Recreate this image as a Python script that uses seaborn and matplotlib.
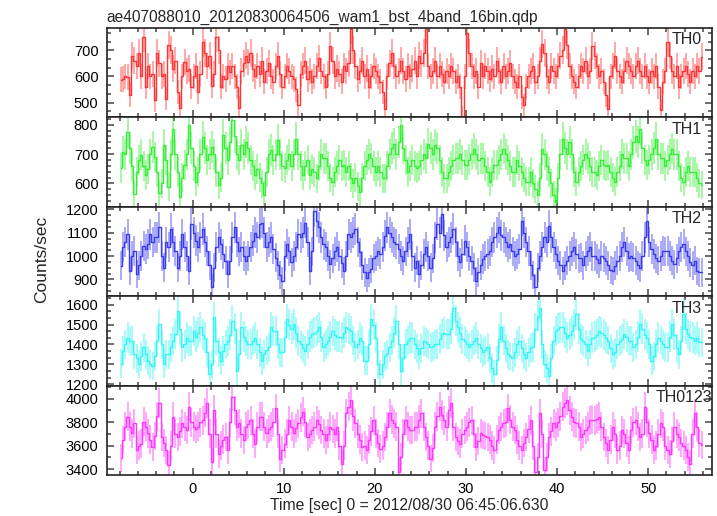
import matplotlib
matplotlib.use("Agg")
import matplotlib.pyplot as plt
import numpy as np
import seaborn as sns
from matplotlib.ticker import MultipleLocator, AutoMinorLocator

sns.set_style("ticks")
plt.rcParams["font.family"] = ["Liberation Sans", "DejaVu Sans"]

# light curve data (counts/sec, 0.25 s bins starting at t = -8 s)
t_start = -8.0
bin_sec = 0.25

th0 = [
    588, 590, 600, 598, 530, 680, 660, 640, 690, 600, 750, 560, 640, 600, 610, 510,
    690, 650, 600, 610, 515, 720, 700, 630, 660, 540, 480, 600, 655, 620, 630, 560,
    600, 640, 540, 610, 730, 690, 640, 680, 565, 610, 750, 700, 560, 600, 590, 640,
    615, 640, 600, 560, 480, 620, 650, 680, 655, 690, 630, 600, 640, 610, 660, 580,
    620, 650, 600, 580, 640, 680, 610, 560, 600, 640, 620, 600, 590, 550, 490, 610,
    640, 660, 590, 620, 580, 600, 640, 670, 620, 600, 560, 610, 715, 660, 600, 630,
    610, 580, 640, 620, 650, 780, 700, 640, 590, 620, 660, 600, 630, 560, 600, 640,
    620, 600, 580, 540, 475, 600, 650, 690, 640, 600, 620, 660, 620, 590, 640, 600,
    630, 660, 600, 680, 650, 690, 780, 640, 600, 620, 660, 600, 640, 610, 580, 620,
    600, 640, 620, 580, 600, 560, 445, 600, 765, 690, 640, 600, 620, 560, 650, 600,
    640, 620, 590, 630, 600, 660, 620, 580, 640, 600, 620, 650, 600, 580, 560, 600,
    520, 490, 560, 600, 620, 640, 580, 600, 660, 725, 690, 600, 580, 640, 620, 600,
    640, 680, 700, 780, 720, 640, 600, 580, 560, 600, 640, 620, 660, 600, 620, 715,
    680, 640, 600, 620, 580, 530, 475, 600, 640, 680, 620, 600, 580, 620, 660, 640,
    620, 600, 640, 660, 620, 600, 640, 600, 580, 620, 600, 640, 560, 470, 580, 620,
    730, 680, 620, 600, 640, 560, 600, 620, 640, 610, 580, 620, 600, 640, 620, 675,
]

th1 = [
    654, 708, 700, 776, 720, 660, 563, 640, 680, 697, 660, 629, 650, 700, 725, 690,
    640, 567, 600, 730, 680, 589, 700, 787, 700, 640, 555, 620, 663, 700, 798, 720,
    660, 606, 640, 700, 759, 720, 680, 700, 725, 700, 640, 595, 620, 764, 720, 680,
    740, 815, 760, 700, 680, 730, 700, 742, 720, 680, 660, 629, 650, 620, 600, 561,
    640, 700, 714, 680, 700, 747, 700, 660, 651, 680, 700, 660, 700, 753, 700, 660,
    629, 660, 680, 629, 650, 640, 618, 660, 700, 685, 685, 660, 620, 606, 640, 660,
    680, 660, 663, 640, 660, 620, 600, 620, 590, 572, 620, 660, 680, 700, 685, 660,
    640, 660, 640, 618, 618, 660, 700, 720, 736, 700, 740, 798, 720, 680, 640, 660,
    680, 660, 651, 660, 680, 700, 685, 736, 720, 700, 730, 720, 680, 640, 618, 618,
    640, 660, 680, 685, 685, 700, 680, 663, 663, 680, 700, 719, 700, 680, 685, 685,
    660, 640, 606, 640, 663, 663, 680, 700, 719, 700, 680, 660, 640, 640, 680, 660,
    640, 620, 606, 606, 640, 600, 580, 561, 620, 719, 700, 660, 640, 600, 560, 538,
    620, 700, 753, 720, 700, 742, 700, 640, 606, 640, 660, 680, 700, 685, 660, 640,
    640, 629, 660, 680, 663, 660, 663, 640, 620, 606, 640, 660, 700, 685, 685, 660,
    700, 740, 760, 740, 787, 720, 680, 663, 680, 700, 720, 753, 700, 685, 685, 660,
    680, 700, 719, 700, 700, 660, 620, 606, 640, 660, 640, 640, 640, 620, 600, 595,
]

th2 = [
    958, 1037, 1060, 1094, 937, 1000, 1023, 923, 960, 1000, 1044, 1030, 1051, 1094, 1060, 1080,
    1080, 1123, 1000, 951, 1059, 1040, 1116, 1060, 1023, 951, 1000, 1094, 1040, 1000, 937, 1137,
    1100, 1066, 1040, 1080, 1116, 1060, 1023, 960, 866, 950, 1040, 1080, 1050, 1009, 980, 923,
    980, 1080, 1123, 1060, 1020, 1037, 1000, 980, 1000, 1040, 1066, 1100, 1080, 1137, 1144, 1100,
    1037, 1060, 1080, 1030, 994, 960, 920, 894, 1000, 1051, 1020, 973, 1000, 1040, 1094, 1080,
    1100, 1144, 1060, 937, 1020, 1194, 1150, 1123, 1080, 1050, 1037, 1000, 966, 990, 1020, 1037,
    1000, 970, 937, 1000, 1094, 1080, 1100, 1116, 1060, 1016, 960, 930, 908, 930, 944, 990,
    1000, 1020, 1009, 1040, 1087, 1123, 1100, 1080, 1060, 1051, 1030, 1000, 980, 1020, 1060, 1094,
    1000, 951, 980, 923, 960, 1010, 1037, 1000, 951, 990, 1080, 1137, 1100, 1180, 1090, 1037,
    1060, 1080, 1116, 1060, 1000, 973, 1010, 1066, 1040, 1000, 980, 950, 894, 930, 960, 987,
    1000, 1010, 1023, 1060, 1080, 1100, 1123, 1090, 1080, 1060, 1040, 1051, 1020, 1000, 1009, 1030,
    1152, 1100, 1060, 1023, 960, 920, 866, 950, 1000, 1037, 1080, 1060, 1130, 1080, 1040, 1009,
    980, 960, 937, 960, 980, 1000, 1020, 1037, 1010, 990, 994, 960, 1000, 1023, 1040, 1000,
    1000, 987, 970, 1000, 994, 980, 960, 940, 937, 958, 980, 1000, 1037, 1060, 1020, 994,
    1000, 994, 980, 960, 951, 1000, 1080, 1152, 1060, 1030, 1009, 990, 980, 1000, 1023, 1020,
    1023, 1000, 980, 966, 990, 1020, 1040, 1051, 1020, 1000, 973, 960, 980, 937, 930, 930,
]

th3 = [
    1304, 1368, 1400, 1435, 1420, 1418, 1351, 1330, 1301, 1340, 1385, 1350, 1318, 1300, 1292, 1340,
    1418, 1502, 1400, 1301, 1351, 1351, 1385, 1420, 1452, 1570, 1480, 1385, 1400, 1435, 1418, 1418,
    1469, 1440, 1460, 1486, 1450, 1435, 1360, 1250, 1300, 1536, 1420, 1360, 1318, 1368, 1400, 1418,
    1450, 1519, 1480, 1267, 1350, 1486, 1440, 1418, 1400, 1402, 1420, 1435, 1400, 1360, 1318, 1350,
    1370, 1385, 1486, 1469, 1469, 1400, 1360, 1360, 1440, 1528, 1500, 1480, 1502, 1460, 1418, 1400,
    1380, 1368, 1400, 1440, 1452, 1460, 1470, 1486, 1440, 1385, 1400, 1418, 1440, 1469, 1450, 1440,
    1440, 1435, 1460, 1486, 1480, 1469, 1420, 1385, 1400, 1435, 1420, 1318, 1318, 1400, 1528, 1500,
    1435, 1300, 1250, 1300, 1340, 1351, 1385, 1420, 1460, 1519, 1400, 1267, 1330, 1402, 1420, 1435,
    1435, 1400, 1380, 1351, 1380, 1418, 1410, 1400, 1385, 1390, 1400, 1402, 1430, 1452, 1460, 1452,
    1452, 1480, 1586, 1520, 1486, 1460, 1430, 1418, 1400, 1385, 1400, 1420, 1435, 1400, 1380, 1360,
    1370, 1385, 1330, 1280, 1250, 1320, 1430, 1486, 1420, 1380, 1351, 1340, 1334, 1360, 1400, 1418,
    1380, 1350, 1334, 1360, 1385, 1385, 1480, 1540, 1586, 1400, 1301, 1280, 1242, 1330, 1420, 1469,
    1480, 1486, 1486, 1460, 1435, 1450, 1469, 1500, 1553, 1480, 1430, 1418, 1400, 1368, 1400, 1435,
    1440, 1450, 1469, 1460, 1450, 1435, 1420, 1380, 1351, 1360, 1400, 1418, 1430, 1452, 1440, 1420,
    1420, 1385, 1400, 1440, 1502, 1480, 1450, 1435, 1400, 1318, 1340, 1400, 1435, 1420, 1400, 1385,
    1385, 1440, 1502, 1450, 1380, 1351, 1420, 1553, 1480, 1452, 1440, 1435, 1420, 1435, 1410, 1410,
]

th0123 = [
    3497, 3646, 3760, 3846, 3760, 3703, 3789, 3560, 3600, 3617, 3803, 3760, 3703, 3650, 3589, 3680,
    3850, 3960, 3674, 3620, 3560, 3437, 3600, 3846, 3700, 3674, 3720, 3789, 3760, 3731, 3931, 3800,
    3760, 3740, 3760, 3800, 3817, 3880, 3960, 3700, 3460, 3903, 3700, 3531, 3600, 3650, 3674, 3560,
    3800, 4017, 3900, 3760, 3789, 3700, 3646, 3760, 3780, 3817, 3700, 3617, 3760, 3846, 3846, 3760,
    3703, 3740, 3760, 3800, 3917, 3700, 3489, 3560, 3617, 3700, 3817, 3760, 3703, 3750, 3789, 3840,
    3889, 3800, 3674, 3700, 3731, 3760, 3817, 3780, 3731, 3700, 3646, 3700, 3760, 3740, 3700, 3760,
    3600, 3446, 3600, 3874, 3930, 3989, 3850, 3789, 3700, 3650, 3589, 3600, 3560, 3650, 3720, 3817,
    3700, 3620, 3574, 3600, 3674, 3760, 3874, 3820, 3789, 3760, 3374, 3500, 3700, 3817, 3760, 3731,
    3731, 3760, 3760, 3820, 3874, 3760, 3674, 3600, 3489, 3580, 3760, 3850, 3931, 3860, 3817, 3760,
    3900, 3960, 3760, 3674, 3640, 3617, 3700, 3731, 3760, 3800, 3817, 3700, 3589, 3640, 3703, 3690,
    3680, 3674, 3650, 3600, 3560, 3650, 3731, 3760, 3789, 3800, 3917, 3820, 3760, 3731, 3650, 3600,
    3560, 3620, 3674, 3740, 3817, 3600, 3374, 3500, 3874, 3700, 3389, 3500, 3674, 3720, 3789, 3760,
    3800, 3850, 3931, 3960, 3989, 3900, 3846, 3800, 3789, 3760, 3674, 3700, 3731, 3760, 3817, 3820,
    3817, 3830, 3846, 3760, 3674, 3620, 3560, 3650, 3760, 3700, 3560, 3600, 3731, 3700, 3620, 3560,
    3731, 3800, 3817, 3760, 3674, 3700, 3931, 3800, 3703, 3650, 3560, 3600, 3700, 3789, 3760, 3600,
    3560, 3531, 3640, 3760, 3700, 3674, 3620, 3600, 3560, 3500, 3446, 3700, 3874, 3760, 3620, 3603,
]

names = ["TH0", "TH1", "TH2", "TH3", "TH0123"]
series = [th0, th1, th2, th3, th0123]
colors = ["#ff3434", "#36ee36", "#3a3aee", "#36f5f5", "#ff36ff"]
ylims = [(443, 786), (520, 825), (827, 1211), (1191, 1642), (3345, 4107)]
yticks = [
    [500, 600, 700],
    [600, 700, 800],
    [900, 1000, 1100, 1200],
    [1200, 1300, 1400, 1500, 1600],
    [3400, 3600, 3800, 4000],
]
yminor = [3, 5, 4, 3, 2]
label_x = [0.983, 0.983, 0.983, 0.983, 1.0]

fig, axes = plt.subplots(5, 1, sharex=True, figsize=(7.17, 5.16), dpi=100)
fig.subplots_adjust(left=0.149, right=0.993, top=0.946, bottom=0.0785, hspace=0)

for i, ax in enumerate(axes):
    vals = np.array(series[i], dtype=float)
    t = t_start + bin_sec / 2 + bin_sec * np.arange(len(vals))
    err = np.sqrt(vals * bin_sec) / bin_sec

    ax.errorbar(t, vals, yerr=err, fmt="none", ecolor=colors[i],
                elinewidth=1.2, alpha=0.5, capsize=0)
    sns.lineplot(x=t, y=vals, ax=ax, color=colors[i], lw=1.0,
                 drawstyle="steps-mid", estimator=None)

    ax.set_ylim(*ylims[i])
    ax.set_yticks(yticks[i])
    ax.yaxis.set_minor_locator(AutoMinorLocator(yminor[i]))
    ax.set_xlim(-9.4, 57.0)
    ax.xaxis.set_major_locator(MultipleLocator(10))
    ax.xaxis.set_minor_locator(MultipleLocator(2))
    ax.tick_params(which="both", direction="in", top=True, right=True,
                   colors="#444444", labelcolor="black", labelsize=10.5, width=1.1)
    ax.tick_params(which="major", length=5)
    ax.tick_params(which="minor", length=2.8)
    ax.tick_params(axis="y", pad=6)
    ax.tick_params(axis="x", pad=5)
    for sp in ax.spines.values():
        sp.set_linewidth(1.2)
        sp.set_color("#222222")
    ax.set_ylabel("")
    ax.text(label_x[i], 0.95, names[i], transform=ax.transAxes,
            ha="right", va="top", fontsize=11.5)

axes[0].set_title("ae407088010_20120830064506_wam1_bst_4band_16bin.qdp",
                  loc="left", fontsize=11.2, pad=4)
axes[-1].set_xlabel("Time [sec] 0 = 2012/08/30 06:45:06.630", fontsize=11.3, labelpad=1)
fig.text(0.058, 0.498, "Counts/sec", rotation=90, ha="center", va="center", fontsize=12.5)

fig.savefig("out.png", dpi=100)
